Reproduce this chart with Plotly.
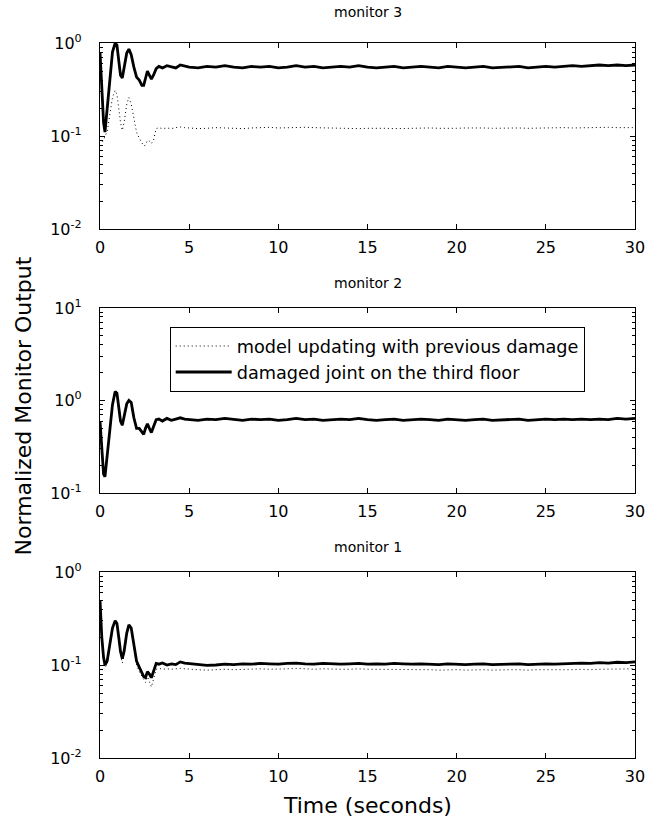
import plotly.graph_objects as go
from plotly.subplots import make_subplots

# ---- data ----
t_early = [0, 0.1, 0.2, 0.28, 0.4, 0.55, 0.7, 0.85, 0.95, 1.05, 1.15, 1.25, 1.35, 1.5, 1.62,
           1.75, 1.9, 2.05, 2.2, 2.35, 2.45, 2.55, 2.66, 2.77, 2.88, 3.0, 3.15, 3.3, 3.5, 3.75,
           4.0, 4.25, 4.5, 4.75, 5.0]
t_late = [5.5, 6.0, 6.5, 7.0, 7.5, 8.0, 8.5, 9.0, 9.5, 10.0, 10.5, 11.0, 11.5, 12.0, 12.5,
          13.0, 13.5, 14.0, 14.5, 15.0, 15.5, 16.0, 16.5, 17.0, 17.5, 18.0, 18.5, 19.0, 19.5,
          20.0, 20.5, 21.0, 21.5, 22.0, 22.5, 23.0, 23.5, 24.0, 24.5, 25.0, 25.5, 26.0, 26.5,
          27.0, 27.5, 28.0, 28.5, 29.0, 29.5, 30.0]
time = t_early + t_late

# monitor 3
m3_damaged = [0.8, 0.35, 0.14, 0.11, 0.2, 0.45, 0.8, 1.0, 0.95, 0.65, 0.45, 0.42, 0.55, 0.78, 0.86,
              0.75, 0.55, 0.43, 0.4, 0.35, 0.35, 0.42, 0.5, 0.45, 0.41, 0.45, 0.53, 0.56, 0.54, 0.57,
              0.55, 0.54, 0.58, 0.56, 0.55,
              0.54, 0.56, 0.55, 0.57, 0.55, 0.54, 0.56, 0.55, 0.56, 0.54, 0.55, 0.57, 0.55, 0.56, 0.54,
              0.55, 0.56, 0.55, 0.57, 0.55, 0.54, 0.55, 0.56, 0.54, 0.55, 0.56, 0.55, 0.54, 0.56, 0.55,
              0.54, 0.55, 0.56, 0.54, 0.55, 0.55, 0.56, 0.54, 0.55, 0.56, 0.55, 0.56, 0.57, 0.56, 0.57,
              0.58, 0.57, 0.58, 0.57, 0.58]
m3_model = [0.09, 0.085, 0.09, 0.1, 0.11, 0.18, 0.26, 0.31, 0.28, 0.2, 0.14, 0.115, 0.14, 0.22, 0.26,
            0.22, 0.15, 0.11, 0.095, 0.085, 0.078, 0.08, 0.09, 0.088, 0.083, 0.09, 0.12, 0.123, 0.12, 0.122,
            0.12, 0.123, 0.125, 0.123, 0.122,
            0.12, 0.121, 0.123, 0.122, 0.121, 0.12, 0.122, 0.123, 0.124, 0.122, 0.123, 0.125, 0.124, 0.123, 0.122,
            0.123, 0.122, 0.121, 0.12, 0.121, 0.122, 0.121, 0.12, 0.121, 0.12, 0.121, 0.122, 0.121, 0.12, 0.121,
            0.122, 0.123, 0.122, 0.121, 0.122, 0.123, 0.122, 0.121, 0.122, 0.123, 0.122, 0.123, 0.122, 0.123, 0.124,
            0.123, 0.124, 0.123, 0.124, 0.123]

# monitor 2
m2_damaged = [0.6, 0.3, 0.16, 0.15, 0.25, 0.5, 0.9, 1.25, 1.2, 0.85, 0.6, 0.54, 0.68, 0.92, 1.0,
              0.95, 0.65, 0.5, 0.5, 0.45, 0.43, 0.5, 0.56, 0.5, 0.45, 0.52, 0.62, 0.63, 0.6, 0.64,
              0.61, 0.63, 0.65, 0.63, 0.62,
              0.61, 0.63, 0.62, 0.64, 0.62, 0.61, 0.63, 0.62, 0.63, 0.61, 0.62, 0.64, 0.62, 0.63, 0.61,
              0.62, 0.63, 0.62, 0.64, 0.62, 0.61, 0.62, 0.63, 0.61, 0.62, 0.63, 0.62, 0.61, 0.63, 0.62,
              0.61, 0.62, 0.63, 0.61, 0.62, 0.62, 0.63, 0.61, 0.62, 0.63, 0.62, 0.63, 0.62, 0.63, 0.62,
              0.63, 0.62, 0.64, 0.63, 0.64]
m2_model = [0.6, 0.3, 0.16, 0.15, 0.25, 0.5, 0.9, 1.24, 1.19, 0.85, 0.6, 0.54, 0.68, 0.91, 1.0,
            0.94, 0.65, 0.5, 0.5, 0.45, 0.43, 0.5, 0.55, 0.5, 0.45, 0.52, 0.61, 0.62, 0.6, 0.63,
            0.61, 0.62, 0.64, 0.62, 0.61,
            0.61, 0.62, 0.62, 0.63, 0.62, 0.61, 0.62, 0.62, 0.62, 0.61, 0.62, 0.63, 0.62, 0.62, 0.61,
            0.62, 0.62, 0.62, 0.63, 0.62, 0.61, 0.62, 0.62, 0.61, 0.62, 0.62, 0.62, 0.61, 0.62, 0.62,
            0.61, 0.62, 0.62, 0.61, 0.62, 0.62, 0.62, 0.61, 0.62, 0.62, 0.62, 0.62, 0.62, 0.62, 0.62,
            0.62, 0.62, 0.63, 0.62, 0.63]

# monitor 1
m1_damaged = [0.5, 0.2, 0.12, 0.1, 0.11, 0.17, 0.25, 0.3, 0.28, 0.2, 0.14, 0.117, 0.14, 0.22, 0.27,
              0.25, 0.17, 0.11, 0.095, 0.082, 0.075, 0.073, 0.085, 0.08, 0.073, 0.085, 0.104, 0.102, 0.105, 0.1,
              0.103, 0.101, 0.108, 0.105, 0.104,
              0.101, 0.099, 0.1, 0.102, 0.101, 0.103, 0.102, 0.104, 0.103, 0.102, 0.104, 0.105, 0.103, 0.102, 0.104,
              0.103, 0.102, 0.103, 0.104, 0.102, 0.103, 0.102, 0.104, 0.103, 0.102, 0.103, 0.102, 0.101, 0.103, 0.102,
              0.101, 0.102, 0.103, 0.101, 0.102, 0.102, 0.103, 0.101, 0.102, 0.103, 0.102, 0.103, 0.104, 0.105, 0.104,
              0.106, 0.105, 0.107, 0.106, 0.108]
m1_model = [0.45, 0.18, 0.11, 0.095, 0.1, 0.16, 0.24, 0.29, 0.27, 0.19, 0.13, 0.105, 0.13, 0.21, 0.26,
            0.24, 0.16, 0.1, 0.085, 0.075, 0.068, 0.065, 0.075, 0.065, 0.058, 0.07, 0.09, 0.092, 0.09, 0.091,
            0.09, 0.091, 0.092, 0.091, 0.09,
            0.089, 0.088, 0.089, 0.09, 0.089, 0.09, 0.09, 0.091, 0.09, 0.09, 0.091, 0.092, 0.091, 0.09, 0.091,
            0.09, 0.09, 0.09, 0.091, 0.09, 0.09, 0.089, 0.09, 0.09, 0.089, 0.09, 0.089, 0.088, 0.089, 0.089,
            0.088, 0.089, 0.089, 0.088, 0.089, 0.089, 0.089, 0.088, 0.089, 0.089, 0.088, 0.089, 0.089, 0.09, 0.089,
            0.09, 0.09, 0.091, 0.09, 0.091]

panel_titles = ["monitor 3", "monitor 2", "monitor 1"]
panel_series = [(m3_model, m3_damaged), (m2_model, m2_damaged), (m1_model, m1_damaged)]
y_ranges = [(-2, 0), (-1, 1), (-2, 0)]
x_ticks = [0, 5, 10, 15, 20, 25, 30]
legend_names = ["model updating with previous damage", "damaged joint on the third floor"]

FONT = "DejaVu Sans, sans-serif"

fig = make_subplots(rows=3, cols=1, shared_xaxes=False)

W, H = 657, 823
mt, mb, ml, mr = 43, 65, 100, 12
plot_h = H - mt - mb
panel_px = [(43, 229), (308, 493), (572, 758)]
domains = [[(H - mb - bot) / plot_h, (H - mb - top) / plot_h] for top, bot in panel_px]
for i, dom in enumerate(domains):
    yname = "yaxis" if i == 0 else f"yaxis{i+1}"
    fig.layout[yname].domain = dom

for i, (model, damaged) in enumerate(panel_series):
    show = (i == 1)
    fig.add_trace(go.Scatter(x=time, y=model, mode="lines", name=legend_names[0],
                             line=dict(color="black", width=1, dash="1px,3px"),
                             showlegend=show), row=i + 1, col=1)
    fig.add_trace(go.Scatter(x=time, y=damaged, mode="lines", name=legend_names[1],
                             line=dict(color="black", width=2.8),
                             showlegend=show), row=i + 1, col=1)

    lo, hi = y_ranges[i]
    majors = [10.0 ** e for e in range(lo, hi + 1)]
    majtext = [f"10<sup>{e}</sup>" for e in range(lo, hi + 1)]
    fig.update_yaxes(type="log", range=[lo, hi], tickmode="array", tickvals=majors, ticktext=majtext,
                     ticks="inside", ticklen=5, tickcolor="black", mirror="ticks", showline=True,
                     linecolor="black", linewidth=1.2, showgrid=False, zeroline=False,
                     tickfont=dict(family=FONT, size=16, color="black"), ticklabelstandoff=14,
                     row=i + 1, col=1)
    fig.update_xaxes(range=[0, 30], tickmode="array", tickvals=x_ticks,
                     ticktext=[str(v) for v in x_ticks],
                     ticks="inside", ticklen=5, tickcolor="black", mirror="ticks", showline=True,
                     linecolor="black", linewidth=1.2, showgrid=False, zeroline=False,
                     tickfont=dict(family=FONT, size=16, color="black"), ticklabelstandoff=4,
                     row=i + 1, col=1)

# minor log ticks drawn by overlaying log axes (one per panel)
for i in range(3):
    lo, hi = y_ranges[i]
    minors = [m * 10.0 ** e for e in range(lo, hi) for m in range(2, 10)]
    xname = "x" if i == 0 else f"x{i+1}"
    yname = "y" if i == 0 else f"y{i+1}"
    new_id = 4 + i
    fig.add_trace(go.Scatter(x=[None], y=[None], xaxis=xname, yaxis=f"y{new_id}",
                             showlegend=False, hoverinfo="skip"))
    fig.layout[f"yaxis{new_id}"] = dict(
        type="log", range=[lo, hi], overlaying=yname, anchor=xname, side="left",
        tickmode="array", tickvals=minors, showticklabels=False,
        ticks="inside", ticklen=3, tickcolor="black", mirror="ticks",
        showline=False, showgrid=False, zeroline=False)

# subplot titles
title_px = [12, 283, 547]
for txt, ypx in zip(panel_titles, title_px):
    fig.add_annotation(text=txt, xref="paper", yref="paper", x=0.5, y=(H - mb - ypx) / plot_h,
                       xanchor="center", yanchor="middle", showarrow=False,
                       font=dict(family=FONT, size=14, color="black"))

fig.add_annotation(text="Normalized Monitor Output", xref="paper", yref="paper",
                   x=(22 - ml) / (W - ml - mr), y=(H - mb - 406) / plot_h, textangle=-90,
                   xanchor="center", yanchor="middle", showarrow=False,
                   font=dict(family=FONT, size=22, color="black"))
fig.add_annotation(text="Time (seconds)", xref="paper", yref="paper",
                   x=0.5, y=(H - mb - 806) / plot_h,
                   xanchor="center", yanchor="middle", showarrow=False,
                   font=dict(family=FONT, size=22, color="black"))

fig.update_layout(
    width=W, height=H,
    margin=dict(l=ml, r=mr, t=mt, b=mb),
    paper_bgcolor="white", plot_bgcolor="white",
    legend=dict(x=(171 - ml) / (W - ml - mr), y=(H - mb - 327) / plot_h, xanchor="left", yanchor="top",
                bordercolor="black", borderwidth=1, bgcolor="white",
                font=dict(family=FONT, size=17.7, color="black"), itemwidth=56,
                tracegroupgap=0),
)

fig.write_html("out.html")
